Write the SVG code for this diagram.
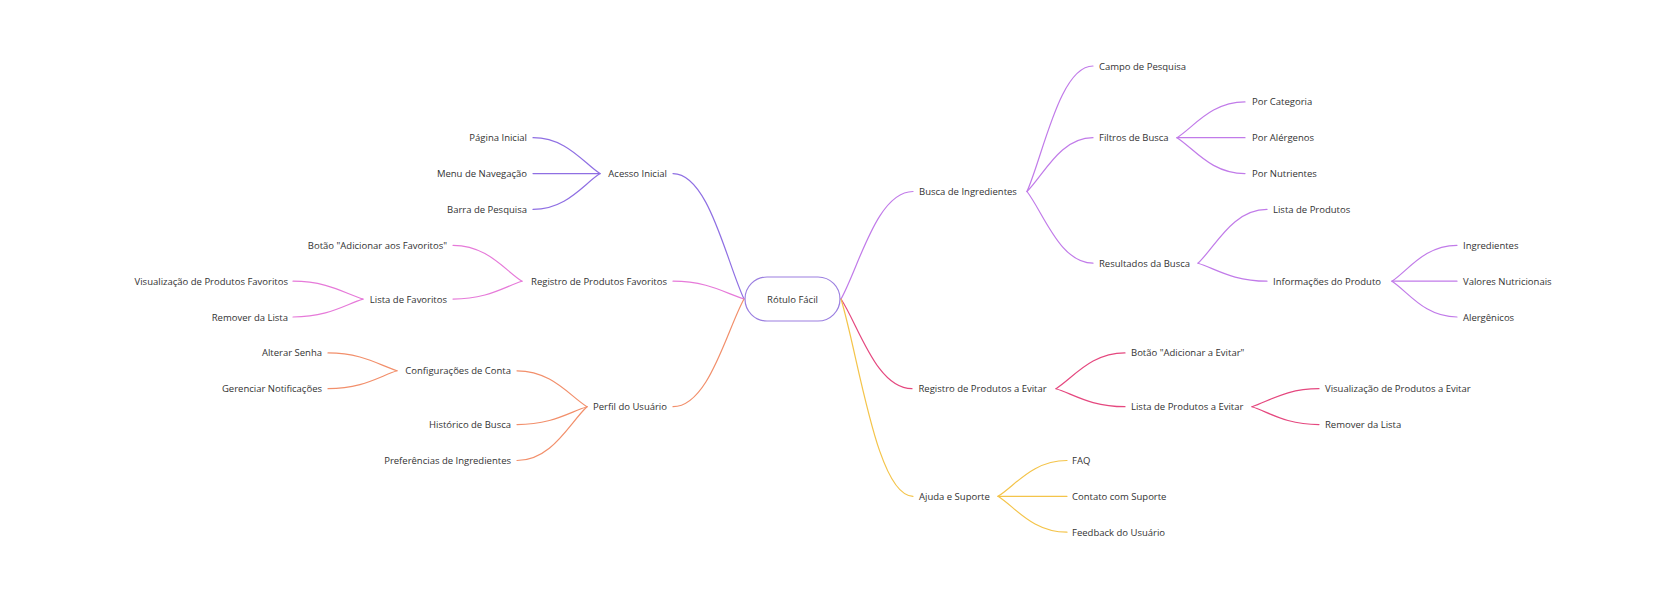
<svg xmlns="http://www.w3.org/2000/svg" width="1669" height="598" viewBox="0 0 1669 598">
<style>
text{font-family:"Open Sans","Noto Sans","Liberation Sans",sans-serif;font-size:9.5px;fill:#333;dominant-baseline:central}
.l{text-anchor:end}
.r{text-anchor:start}
path{fill:none;stroke-width:1.2;stroke-linecap:round}
.c1{stroke:#8f6fe3}.c2{stroke:#e67ad9}.c3{stroke:#f28f6b}.c4{stroke:#c17be9}.c5{stroke:#e5487f}.c6{stroke:#f4c44a}
</style>
<rect width="1669" height="598" fill="#fff"/>
<g id="connectors">
<path class="c1" d="M744 299 C726.3 261.4 708.5 173.6 673 173.6"/>
<path class="c2" d="M744 299 C726.3 293.7 708.5 281.2 673 281.2"/>
<path class="c3" d="M744 299 C726.3 331.3 708.5 406.7 673 406.7"/>
<path class="c1" d="M600 173.6 C583.3 162.8 566.5 137.7 533 137.7"/>
<path class="c1" d="M600 173.6 L533 173.6"/>
<path class="c1" d="M600 173.6 C583.3 184.3 566.5 209.4 533 209.4"/>
<path class="c2" d="M522 281.2 C504.75 270.4 487.5 245.3 453 245.3"/>
<path class="c2" d="M522 281.2 C504.75 286.6 487.5 299.1 453 299.1"/>
<path class="c2" d="M363 299.1 C345.5 293.7 328 281.2 293 281.2"/>
<path class="c2" d="M363 299.1 C345.5 304.5 328 317 293 317"/>
<path class="c3" d="M587 406.7 C569.5 395.9 552 370.8 517 370.8"/>
<path class="c3" d="M587 406.7 C569.5 412.1 552 424.6 517 424.6"/>
<path class="c3" d="M587 406.7 C569.5 422.8 552 460.5 517 460.5"/>
<path class="c3" d="M397 370.8 C379.75 365.4 362.5 352.9 328 352.9"/>
<path class="c3" d="M397 370.8 C379.75 376.2 362.5 388.7 328 388.7"/>
<path class="c4" d="M841 299 C859 266.75 877 191.5 913 191.5"/>
<path class="c5" d="M841 299 C858.75 325.9 876.5 388.7 912 388.7"/>
<path class="c6" d="M841 299 C859 358.2 877 496.3 913 496.3"/>
<path class="c4" d="M1027 191.5 C1043.5 153.85 1060 66 1093 66"/>
<path class="c4" d="M1027 191.5 C1043.5 175.4 1060 137.7 1093 137.7"/>
<path class="c4" d="M1027 191.5 C1043.5 213 1060 263.2 1093 263.2"/>
<path class="c4" d="M1177 137.7 C1194 126.96 1211 101.9 1245 101.9"/>
<path class="c4" d="M1177 137.7 L1245 137.7"/>
<path class="c4" d="M1177 137.7 C1194 148.5 1211 173.6 1245 173.6"/>
<path class="c4" d="M1198 263.2 C1215.25 247.1 1232.5 209.4 1267 209.4"/>
<path class="c4" d="M1198 263.2 C1215.25 268.6 1232.5 281.2 1267 281.2"/>
<path class="c4" d="M1392 281.2 C1408.25 270.4 1424.5 245.3 1457 245.3"/>
<path class="c4" d="M1392 281.2 L1457 281.2"/>
<path class="c4" d="M1392 281.2 C1408.25 291.9 1424.5 317 1457 317"/>
<path class="c5" d="M1056 388.7 C1073.25 378 1090.5 352.9 1125 352.9"/>
<path class="c5" d="M1056 388.7 C1073.25 394.1 1090.5 406.7 1125 406.7"/>
<path class="c5" d="M1252 406.7 C1268.75 401.3 1285.5 388.7 1319 388.7"/>
<path class="c5" d="M1252 406.7 C1268.75 412.1 1285.5 424.6 1319 424.6"/>
<path class="c6" d="M998 496.3 C1015.25 485.6 1032.5 460.5 1067 460.5"/>
<path class="c6" d="M998 496.3 L1067 496.3"/>
<path class="c6" d="M998 496.3 C1015.25 507.1 1032.5 532.2 1067 532.2"/>
</g>
<g id="root"><rect x="745" y="277" width="95" height="44" rx="22" fill="#fff" stroke="#9b7fe0" stroke-width="1.2"/><text x="792.5" y="299" text-anchor="middle">Rótulo Fácil</text></g>
<g id="acesso-inicial"><text class="l" x="667" y="173.6">Acesso Inicial</text></g>
<g id="pagina-inicial"><text class="l" x="527" y="137.7">Página Inicial</text></g>
<g id="menu-navegacao"><text class="l" x="527" y="173.6">Menu de Navegação</text></g>
<g id="barra-pesquisa"><text class="l" x="527" y="209.4">Barra de Pesquisa</text></g>
<g id="registro-favoritos"><text class="l" x="667" y="281.2">Registro de Produtos Favoritos</text></g>
<g id="botao-favoritos"><text class="l" x="447" y="245.3">Botão "Adicionar aos Favoritos"</text></g>
<g id="lista-favoritos"><text class="l" x="447" y="299.1">Lista de Favoritos</text></g>
<g id="visualizacao-favoritos"><text class="l" x="288" y="281.2">Visualização de Produtos Favoritos</text></g>
<g id="remover-favoritos"><text class="l" x="288" y="317">Remover da Lista</text></g>
<g id="perfil-usuario"><text class="l" x="667" y="406.7">Perfil do Usuário</text></g>
<g id="configuracoes-conta"><text class="l" x="511" y="370.8">Configurações de Conta</text></g>
<g id="alterar-senha"><text class="l" x="322" y="352.9">Alterar Senha</text></g>
<g id="gerenciar-notificacoes"><text class="l" x="322" y="388.7">Gerenciar Notificações</text></g>
<g id="historico-busca"><text class="l" x="511" y="424.6">Histórico de Busca</text></g>
<g id="preferencias-ingredientes"><text class="l" x="511" y="460.5">Preferências de Ingredientes</text></g>
<g id="busca-ingredientes"><text class="r" x="919" y="191.5">Busca de Ingredientes</text></g>
<g id="campo-pesquisa"><text class="r" x="1099" y="66">Campo de Pesquisa</text></g>
<g id="filtros-busca"><text class="r" x="1099" y="137.7">Filtros de Busca</text></g>
<g id="por-categoria"><text class="r" x="1252" y="101.9">Por Categoria</text></g>
<g id="por-alergenos"><text class="r" x="1252" y="137.7">Por Alérgenos</text></g>
<g id="por-nutrientes"><text class="r" x="1252" y="173.6">Por Nutrientes</text></g>
<g id="resultados-busca"><text class="r" x="1099" y="263.2">Resultados da Busca</text></g>
<g id="lista-produtos"><text class="r" x="1273" y="209.4">Lista de Produtos</text></g>
<g id="informacoes-produto"><text class="r" x="1273" y="281.2">Informações do Produto</text></g>
<g id="ingredientes"><text class="r" x="1463" y="245.3">Ingredientes</text></g>
<g id="valores-nutricionais"><text class="r" x="1463" y="281.2">Valores Nutricionais</text></g>
<g id="alergenicos"><text class="r" x="1463" y="317">Alergênicos</text></g>
<g id="registro-evitar"><text class="r" x="918.5" y="388.7">Registro de Produtos a Evitar</text></g>
<g id="botao-evitar"><text class="r" x="1131" y="352.9">Botão "Adicionar a Evitar"</text></g>
<g id="lista-evitar"><text class="r" x="1131" y="406.7">Lista de Produtos a Evitar</text></g>
<g id="visualizacao-evitar"><text class="r" x="1325" y="388.7">Visualização de Produtos a Evitar</text></g>
<g id="remover-evitar"><text class="r" x="1325" y="424.6">Remover da Lista</text></g>
<g id="ajuda-suporte"><text class="r" x="919" y="496.3">Ajuda e Suporte</text></g>
<g id="faq"><text class="r" x="1072" y="460.5">FAQ</text></g>
<g id="contato-suporte"><text class="r" x="1072" y="496.3">Contato com Suporte</text></g>
<g id="feedback-usuario"><text class="r" x="1072" y="532.2">Feedback do Usuário</text></g>
</svg>
